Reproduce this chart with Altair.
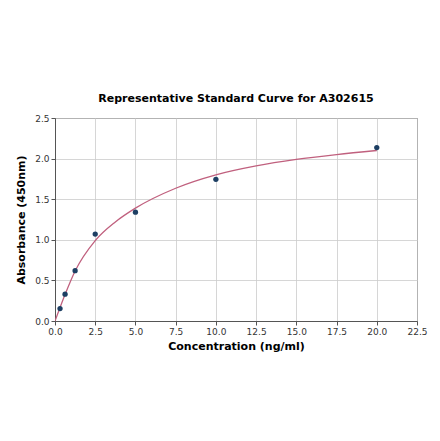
import altair as alt
import pandas as pd

# measured standards
conc = [0.3125, 0.625, 1.25, 2.5, 5.0, 10.0, 20.0]
absorb = [0.153, 0.33, 0.62, 1.07, 1.34, 1.745, 2.136]

# fitted curve
fit_x = [0.0, 0.3125, 0.625, 1.25, 2.5, 3.75, 5.0, 7.5, 10.0, 12.5, 15.0, 17.5, 20.0]
fit_y = [0.0, 0.165, 0.325, 0.615, 0.99, 1.22, 1.39, 1.635, 1.80, 1.91, 1.99, 2.05, 2.10]

x_ticks = [0, 2.5, 5, 7.5, 10, 12.5, 15, 17.5, 20, 22.5]
y_ticks = [0, 0.5, 1.0, 1.5, 2.0, 2.5]

points_df = pd.DataFrame({"conc": conc, "absorb": absorb})
fit_df = pd.DataFrame({"conc": fit_x, "absorb": fit_y})

x_enc = alt.X(
    "conc:Q",
    title="Concentration (ng/ml)",
    scale=alt.Scale(domain=[0, 22.5], nice=False, zero=False),
    axis=alt.Axis(values=x_ticks, format=".1f", labelFlush=False),
)
y_enc = alt.Y(
    "absorb:Q",
    title="Absorbance (450nm)",
    scale=alt.Scale(domain=[0, 2.5], nice=False),
    axis=alt.Axis(values=y_ticks, format=".1f", labelFlush=False),
)

curve = alt.Chart(fit_df).mark_line(
    color="#c0607e", strokeWidth=1.3, interpolate="monotone", clip=True
).encode(x=x_enc, y=y_enc)

dots = alt.Chart(points_df).mark_circle(
    color="#1d3f63", size=28, opacity=1
).encode(x="conc:Q", y="absorb:Q")

chart = (
    alt.layer(curve, dots)
    .properties(
        width=362,
        height=203,
        autosize=alt.AutoSizeParams(type="none"),
        padding={"left": 47, "top": 110, "right": 15, "bottom": 100},
        title=alt.TitleParams(
            "Representative Standard Curve for A302615",
            font="DejaVu Sans",
            fontSize=11,
            fontWeight="bold",
            color="#000000",
            offset=10,
        ),
    )
    .configure_view(stroke="#555555", strokeWidth=1)
    .configure_axis(
        labelFont="DejaVu Sans",
        labelFontSize=9,
        labelColor="#333333",
        titleFont="DejaVu Sans",
        titleFontSize=11,
        titleFontWeight="bold",
        titleColor="#000000",
        domainColor="#555555",
        tickColor="#555555",
        tickSize=4,
        gridColor="#cccccc",
        gridWidth=0.8,
    )
    .configure_axisX(titlePadding=4, labelPadding=2)
    .configure_axisY(titlePadding=8, labelPadding=2)
)

chart.save("out.html", embed_options={"renderer": "svg", "actions": False})
